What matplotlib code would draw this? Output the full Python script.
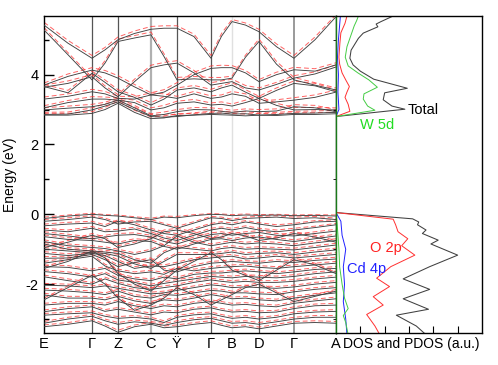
import matplotlib
matplotlib.use("Agg")
import matplotlib.pyplot as plt

plt.rcParams['font.family'] = ['Liberation Sans', 'DejaVu Sans']
plt.rcParams['axes.unicode_minus'] = False

# high-symmetry points along the path (k distance) and labels
sym_k = [0, 48, 74, 107, 133, 167, 188, 215, 250, 292]
sym_labels = ['E', 'Γ', 'Z', 'C', 'Ÿ', 'Γ', 'B', 'D', 'Γ', 'A']
sym_line_colors = [None, '#555555', '#555555', '#b0b0b0', '#555555',
                   '#555555', '#e0e0e0', '#555555', '#9a9a9a', None]
sym_line_widths = [0, 0.9, 0.9, 1.6, 0.9, 0.9, 1.0, 0.9, 1.4, 0]

# k-points where band energies are given (high-symmetry points + midpoints)
k_points = [0, 24, 48, 61, 74, 90.5, 107, 120, 133, 150, 167,
            177.5, 188, 201.5, 215, 232.5, 250, 271, 292]

# conduction bands (eV), black solid
cond_black = [
    [5.42, 4.90, 4.47, 4.71, 5.00, 5.18, 5.30, 5.33, 5.33, 5.09, 4.47, 5.10, 5.52, 5.42, 5.23, 4.80, 4.47, 5.00, 5.66],
    [5.28, 4.57, 3.85, 4.33, 4.95, 5.05, 5.14, 4.52, 3.85, 3.88, 3.85, 3.85, 3.90, 4.50, 4.95, 4.30, 3.85, 3.70, 3.56],
    [3.70, 3.95, 4.13, 4.05, 3.90, 3.65, 3.42, 3.50, 3.70, 4.00, 4.18, 4.20, 4.20, 4.05, 3.80, 4.00, 4.14, 4.10, 4.28],
    [3.64, 3.75, 3.94, 3.62, 3.37, 3.80, 4.20, 4.28, 4.33, 4.05, 3.70, 3.75, 3.80, 3.62, 3.56, 3.72, 3.90, 4.02, 4.22],
    [3.66, 3.48, 4.04, 3.78, 3.51, 3.35, 3.13, 3.30, 3.56, 3.62, 3.51, 3.62, 3.70, 3.50, 3.32, 3.55, 3.75, 3.68, 3.51],
    [3.30, 3.38, 3.51, 3.45, 3.32, 3.30, 3.42, 3.38, 3.32, 3.45, 3.32, 3.36, 3.45, 3.38, 3.18, 3.22, 3.27, 3.35, 3.50],
    [3.05, 3.20, 3.30, 3.30, 3.27, 3.20, 2.99, 3.05, 3.18, 3.22, 3.13, 3.15, 3.10, 3.20, 3.32, 3.12, 2.99, 3.00, 2.99],
    [2.99, 3.04, 3.08, 3.15, 3.27, 3.05, 2.82, 2.86, 2.94, 3.00, 2.99, 2.95, 2.92, 2.96, 2.94, 2.96, 3.08, 3.05, 2.94],
    [2.86, 2.87, 2.99, 3.10, 3.22, 3.00, 2.80, 2.78, 2.80, 2.85, 2.89, 2.90, 2.87, 2.88, 2.84, 2.86, 2.89, 2.90, 2.92],
    [2.84, 2.84, 2.89, 3.00, 3.18, 2.92, 2.74, 2.76, 2.83, 2.84, 2.86, 2.85, 2.84, 2.82, 2.84, 2.83, 2.86, 2.86, 2.88],
]

# conduction bands (eV), red dashed
cond_red = [
    [5.50, 4.98, 4.55, 4.78, 5.08, 5.25, 5.38, 5.40, 5.40, 5.16, 4.55, 5.18, 5.58, 5.48, 5.30, 4.88, 4.55, 5.08, 5.72],
    [5.35, 4.63, 3.92, 4.40, 5.02, 5.12, 5.22, 4.60, 3.92, 3.95, 3.92, 3.92, 3.96, 4.56, 5.02, 4.38, 3.92, 3.77, 3.62],
    [3.76, 4.02, 4.20, 4.12, 3.97, 3.72, 3.48, 3.57, 3.77, 4.07, 4.25, 4.27, 4.26, 4.12, 3.86, 4.07, 4.21, 4.17, 4.34],
    [3.70, 3.82, 4.00, 3.68, 3.43, 3.87, 4.27, 4.35, 4.40, 4.12, 3.77, 3.82, 3.87, 3.69, 3.62, 3.78, 3.97, 4.08, 4.28],
    [3.72, 3.55, 4.10, 3.85, 3.57, 3.41, 3.20, 3.37, 3.62, 3.69, 3.58, 3.68, 3.77, 3.57, 3.38, 3.62, 3.82, 3.75, 3.57],
    [3.36, 3.45, 3.58, 3.52, 3.38, 3.37, 3.48, 3.45, 3.38, 3.52, 3.39, 3.42, 3.52, 3.45, 3.25, 3.28, 3.34, 3.42, 3.56],
    [3.11, 3.26, 3.37, 3.36, 3.33, 3.27, 3.05, 3.12, 3.24, 3.29, 3.19, 3.22, 3.16, 3.27, 3.38, 3.18, 3.06, 3.06, 3.05],
    [3.05, 3.10, 3.15, 3.21, 3.33, 3.12, 2.88, 2.93, 3.00, 3.06, 3.05, 3.02, 2.98, 3.02, 3.00, 3.02, 3.14, 3.12, 3.00],
    [2.92, 2.93, 3.05, 3.16, 3.28, 3.07, 2.86, 2.84, 2.86, 2.91, 2.95, 2.96, 2.93, 2.94, 2.90, 2.92, 2.95, 2.96, 2.98],
    [2.89, 2.89, 2.94, 3.06, 3.24, 2.98, 2.79, 2.81, 2.88, 2.89, 2.91, 2.90, 2.89, 2.87, 2.89, 2.88, 2.91, 2.91, 2.93],
]

# valence bands (eV), black solid
val_black = [
    [-0.12, -0.05, 0.00, -0.03, -0.05, -0.10, -0.15, -0.08, -0.10, -0.04, 0.00, -0.01, -0.04, -0.02, -0.03, -0.02, -0.04, -0.03, -0.05],
    [-0.20, -0.15, -0.08, -0.15, -0.28, -0.22, -0.20, -0.30, -0.40, -0.25, -0.10, -0.12, -0.18, -0.12, -0.10, -0.08, -0.12, -0.10, -0.15],
    [-0.33, -0.28, -0.25, -0.35, -0.20, -0.30, -0.45, -0.55, -0.60, -0.45, -0.30, -0.25, -0.30, -0.22, -0.28, -0.35, -0.30, -0.22, -0.20],
    [-0.45, -0.50, -0.40, -0.50, -0.48, -0.42, -0.55, -0.68, -0.75, -0.60, -0.45, -0.40, -0.45, -0.38, -0.45, -0.50, -0.45, -0.38, -0.30],
    [-0.55, -0.62, -0.70, -0.65, -0.60, -0.58, -0.65, -0.78, -0.85, -0.70, -0.58, -0.55, -0.60, -0.55, -0.52, -0.60, -0.62, -0.55, -0.48],
    [-0.64, -0.72, -0.75, -0.80, -0.85, -0.75, -0.78, -0.92, -1.00, -0.85, -0.72, -0.70, -0.75, -0.68, -0.65, -0.72, -0.78, -0.70, -0.62],
    [-0.78, -0.90, -0.95, -0.98, -1.05, -1.15, -1.05, -0.90, -0.62, -0.80, -0.90, -0.85, -0.80, -0.85, -0.82, -0.85, -0.90, -0.82, -0.75],
    [-0.85, -1.00, -1.05, -1.08, -1.12, -1.30, -1.40, -1.10, -0.95, -1.00, -1.05, -0.98, -0.95, -1.00, -0.98, -1.00, -1.02, -0.95, -0.88],
    [-1.00, -1.05, -1.10, -1.12, -1.20, -1.42, -1.55, -1.35, -1.15, -1.15, -1.15, -1.12, -1.08, -1.15, -1.12, -1.10, -1.15, -1.08, -1.02],
    [-1.12, -1.18, -1.12, -1.18, -1.35, -1.55, -1.48, -1.50, -1.42, -1.30, -1.25, -1.22, -1.20, -1.28, -1.25, -1.20, -1.25, -1.20, -1.15],
    [-1.26, -1.25, -1.15, -1.30, -1.50, -1.38, -1.30, -1.60, -1.65, -1.50, -1.40, -1.38, -1.35, -1.38, -1.40, -1.35, -1.38, -1.32, -1.28],
    [-1.40, -1.30, -1.20, -1.48, -1.62, -1.70, -1.65, -1.72, -1.55, -1.62, -1.55, -1.52, -1.50, -1.48, -1.52, -1.55, -1.50, -1.45, -1.40],
    [-1.50, -1.52, -1.62, -1.55, -1.75, -1.85, -1.90, -1.80, -1.85, -1.72, -1.68, -1.68, -1.65, -1.62, -1.65, -1.70, -1.65, -1.58, -1.55],
    [-1.64, -1.70, -1.80, -1.70, -1.88, -1.95, -2.05, -1.98, -1.92, -1.85, -1.78, -1.80, -1.82, -1.78, -1.80, -1.82, -1.78, -1.70, -1.65],
    [-1.79, -1.90, -2.00, -1.85, -1.98, -2.10, -2.15, -2.10, -2.05, -1.95, -1.88, -1.92, -1.95, -1.92, -1.95, -1.95, -1.92, -1.85, -1.80],
    [-2.03, -2.05, -2.10, -2.05, -2.12, -2.20, -2.28, -2.25, -2.18, -2.10, -2.02, -2.05, -2.10, -2.08, -2.10, -2.12, -2.08, -2.00, -1.95],
    [-2.17, -2.20, -2.25, -2.30, -2.20, -2.35, -2.40, -2.30, -2.32, -2.25, -2.18, -2.20, -2.25, -2.25, -2.28, -2.30, -2.22, -2.15, -2.10],
    [-2.31, -2.40, -2.40, -2.45, -2.35, -2.48, -2.55, -2.45, -2.48, -2.40, -2.30, -2.35, -2.42, -2.40, -2.45, -2.48, -2.40, -2.32, -2.25],
    [-2.60, -2.55, -2.55, -2.60, -2.50, -2.62, -2.70, -2.62, -2.65, -2.55, -2.50, -2.55, -2.60, -2.58, -2.62, -2.65, -2.55, -2.48, -2.42],
    [-2.79, -2.70, -2.65, -2.78, -2.72, -2.80, -2.88, -2.80, -2.82, -2.72, -2.68, -2.75, -2.80, -2.78, -2.82, -2.80, -2.70, -2.62, -2.60],
    [-2.89, -2.85, -2.82, -2.92, -2.98, -2.95, -3.00, -3.10, -2.95, -2.88, -2.85, -2.92, -2.98, -2.95, -3.00, -2.95, -2.85, -2.80, -2.78],
    [-3.12, -3.00, -2.92, -3.05, -3.15, -3.08, -3.12, -3.18, -3.10, -3.02, -2.98, -3.05, -3.12, -3.10, -3.15, -3.08, -3.00, -2.95, -2.95],
    [-3.22, -3.15, -3.05, -3.20, -3.38, -3.22, -3.15, -3.25, -3.22, -3.15, -3.10, -3.18, -3.25, -3.22, -3.28, -3.20, -3.12, -3.10, -3.12],
    [-1.55, -1.35, -1.05, -1.25, -1.70, -2.00, -2.20, -1.90, -1.60, -1.35, -1.10, -1.30, -1.60, -1.75, -1.90, -1.60, -1.30, -1.45, -1.70],
    [-2.45, -2.10, -1.75, -2.00, -2.40, -2.75, -2.60, -2.40, -2.10, -2.30, -2.60, -2.45, -2.30, -2.10, -2.00, -2.25, -2.50, -2.35, -2.20],
    [-0.95, -0.80, -0.60, -0.70, -0.95, -0.85, -0.70, -0.50, -0.45, -0.55, -0.70, -0.65, -0.55, -0.62, -0.75, -0.68, -0.55, -0.65, -0.80],
]

# valence bands (eV), red dashed
val_red = [
    [-0.08, -0.02, 0.03, -0.01, -0.02, -0.07, -0.11, -0.05, -0.06, -0.01, 0.02, 0.01, -0.01, 0.01, -0.01, 0.00, -0.02, -0.01, -0.02],
    [-0.15, -0.10, -0.04, -0.11, -0.23, -0.18, -0.15, -0.26, -0.35, -0.21, -0.06, -0.08, -0.14, -0.08, -0.06, -0.04, -0.08, -0.06, -0.11],
    [-0.28, -0.23, -0.20, -0.30, -0.16, -0.25, -0.40, -0.50, -0.55, -0.40, -0.26, -0.21, -0.25, -0.18, -0.24, -0.30, -0.26, -0.18, -0.16],
    [-0.40, -0.45, -0.35, -0.45, -0.43, -0.37, -0.50, -0.63, -0.70, -0.55, -0.40, -0.36, -0.40, -0.33, -0.40, -0.45, -0.40, -0.34, -0.26],
    [-0.50, -0.57, -0.65, -0.60, -0.55, -0.53, -0.60, -0.73, -0.80, -0.65, -0.53, -0.50, -0.55, -0.50, -0.47, -0.55, -0.57, -0.50, -0.43],
    [-0.59, -0.67, -0.70, -0.75, -0.80, -0.70, -0.73, -0.87, -0.95, -0.80, -0.67, -0.65, -0.70, -0.63, -0.60, -0.67, -0.73, -0.65, -0.57],
    [-0.73, -0.85, -0.90, -0.93, -1.00, -1.10, -1.00, -0.85, -0.57, -0.75, -0.85, -0.80, -0.75, -0.80, -0.77, -0.80, -0.85, -0.77, -0.70],
    [-0.80, -0.95, -1.00, -1.03, -1.07, -1.25, -1.35, -1.05, -0.90, -0.95, -1.00, -0.93, -0.90, -0.95, -0.93, -0.95, -0.97, -0.90, -0.83],
    [-0.95, -1.00, -1.05, -1.07, -1.15, -1.37, -1.50, -1.30, -1.10, -1.10, -1.10, -1.07, -1.03, -1.10, -1.07, -1.05, -1.10, -1.03, -0.97],
    [-1.07, -1.13, -1.07, -1.13, -1.30, -1.50, -1.43, -1.45, -1.37, -1.25, -1.20, -1.17, -1.15, -1.23, -1.20, -1.15, -1.20, -1.15, -1.10],
    [-1.21, -1.20, -1.10, -1.25, -1.45, -1.33, -1.25, -1.55, -1.60, -1.45, -1.35, -1.33, -1.30, -1.33, -1.35, -1.30, -1.33, -1.27, -1.23],
    [-1.35, -1.25, -1.15, -1.43, -1.57, -1.65, -1.60, -1.67, -1.50, -1.57, -1.50, -1.47, -1.45, -1.43, -1.47, -1.50, -1.45, -1.40, -1.35],
    [-1.45, -1.47, -1.57, -1.50, -1.70, -1.80, -1.85, -1.75, -1.80, -1.67, -1.63, -1.63, -1.60, -1.57, -1.60, -1.65, -1.60, -1.53, -1.50],
    [-1.59, -1.65, -1.75, -1.65, -1.83, -1.90, -2.00, -1.93, -1.87, -1.80, -1.73, -1.75, -1.77, -1.73, -1.75, -1.77, -1.73, -1.65, -1.60],
    [-1.74, -1.85, -1.95, -1.80, -1.93, -2.05, -2.10, -2.05, -2.00, -1.90, -1.83, -1.87, -1.90, -1.87, -1.90, -1.90, -1.87, -1.80, -1.75],
    [-1.98, -2.00, -2.05, -2.00, -2.07, -2.15, -2.23, -2.20, -2.13, -2.05, -1.97, -2.00, -2.05, -2.03, -2.05, -2.07, -2.03, -1.95, -1.90],
    [-2.12, -2.15, -2.20, -2.25, -2.15, -2.30, -2.35, -2.25, -2.27, -2.20, -2.13, -2.15, -2.20, -2.20, -2.23, -2.25, -2.17, -2.10, -2.05],
    [-2.26, -2.35, -2.35, -2.40, -2.30, -2.43, -2.50, -2.40, -2.43, -2.35, -2.25, -2.30, -2.37, -2.35, -2.40, -2.43, -2.35, -2.27, -2.20],
    [-2.55, -2.50, -2.50, -2.55, -2.45, -2.57, -2.65, -2.57, -2.60, -2.50, -2.45, -2.50, -2.55, -2.53, -2.57, -2.60, -2.50, -2.43, -2.37],
    [-2.74, -2.65, -2.60, -2.73, -2.67, -2.75, -2.83, -2.75, -2.77, -2.67, -2.63, -2.70, -2.75, -2.73, -2.77, -2.75, -2.65, -2.57, -2.55],
    [-2.84, -2.80, -2.77, -2.87, -2.93, -2.90, -2.95, -3.05, -2.90, -2.83, -2.80, -2.87, -2.93, -2.90, -2.95, -2.90, -2.80, -2.75, -2.73],
    [-3.07, -2.95, -2.87, -3.00, -3.10, -3.03, -3.07, -3.13, -3.05, -2.97, -2.93, -3.00, -3.07, -3.05, -3.10, -3.03, -2.95, -2.90, -2.90],
    [-3.17, -3.10, -3.00, -3.15, -3.32, -3.17, -3.10, -3.20, -3.17, -3.10, -3.05, -3.13, -3.20, -3.17, -3.23, -3.15, -3.07, -3.05, -3.07],
    [-1.50, -1.30, -1.00, -1.20, -1.65, -1.95, -2.15, -1.85, -1.55, -1.30, -1.05, -1.25, -1.55, -1.70, -1.85, -1.55, -1.25, -1.40, -1.65],
    [-2.40, -2.05, -1.70, -1.95, -2.35, -2.70, -2.55, -2.35, -2.05, -2.25, -2.55, -2.40, -2.25, -2.05, -1.95, -2.20, -2.45, -2.30, -2.15],
    [-0.90, -0.75, -0.55, -0.65, -0.90, -0.80, -0.65, -0.45, -0.40, -0.50, -0.65, -0.60, -0.50, -0.57, -0.70, -0.63, -0.50, -0.60, -0.75],
]

# density of states: energies (eV) and values (a.u.)
total_E = [-3.45, -3.20, -2.89, -2.72, -2.42, -2.15, -1.85, -1.50, -1.17, -0.85, -0.74, -0.55,
           -0.45, -0.30, -0.22, -0.13, 0.05, 2.80, 3.01, 3.10, 3.28, 3.48, 3.61, 3.87, 4.10,
           4.28, 4.47, 4.70, 5.04, 5.19, 5.37, 5.45, 5.52, 5.60, 5.68, 5.80]
total_dos = [3.70, 3.30, 2.48, 3.80, 2.76, 3.85, 2.76, 3.85, 5.00, 3.90, 4.20, 3.55,
             3.70, 3.35, 3.40, 3.15, 0.00, 0.00, 2.83, 2.30, 1.94, 2.00, 2.93, 1.55, 1.00,
             0.70, 0.57, 0.62, 0.92, 1.12, 1.72, 1.65, 1.85, 2.10, 2.35, 2.60]

o2p_E = [-3.45, -3.20, -2.87, -2.60, -2.36, -2.07, -1.83, -1.50, -1.17, -0.90, -0.70, -0.50,
         -0.30, -0.14, 0.05, 2.80, 2.95, 3.15, 3.35, 3.50, 3.66, 3.85, 4.05, 4.30, 4.50,
         4.90, 5.20, 5.47, 5.68, 5.80]
o2p_dos = [1.80, 1.60, 1.26, 1.94, 1.53, 2.20, 1.67, 2.25, 3.24, 2.70, 2.95, 2.55,
           2.45, 2.35, 0.00, 0.00, 0.57, 0.50, 0.37, 0.45, 0.55, 0.40, 0.25, 0.15, 0.12,
           0.16, 0.20, 0.37, 0.45, 0.50]

cd4p_E = [-3.45, -3.00, -2.50, -2.00, -1.50, -1.00, -0.60, -0.20, 0.05, 2.80, 3.00, 3.50,
          4.00, 4.50, 5.00, 5.68, 5.80]
cd4p_dos = [0.45, 0.40, 0.30, 0.35, 0.30, 0.40, 0.25, 0.20, 0.00, 0.00, 0.12, 0.08,
            0.10, 0.06, 0.10, 0.18, 0.20]

w5d_E = [-3.45, -3.10, -2.90, -2.70, -2.40, -2.00, -1.50, -1.00, -0.30, 0.05, 2.80, 2.98,
         3.10, 3.30, 3.45, 3.64, 3.85, 4.05, 4.25, 4.50, 4.80, 5.10, 5.40, 5.55, 5.68, 5.80]
w5d_dos = [0.50, 0.40, 0.30, 0.50, 0.35, 0.25, 0.15, 0.12, 0.05, 0.00, 0.00, 1.60,
           1.30, 1.12, 1.15, 1.70, 1.35, 0.90, 0.50, 0.38, 0.45, 0.60, 0.75, 0.85, 0.92, 0.98]

fig = plt.figure(figsize=(4.98, 3.65), dpi=100)
ax = fig.add_axes([44 / 498, 32 / 365, 292 / 498, 317 / 365])
ax_dos = fig.add_axes([336 / 498, 32 / 365, 146 / 498, 317 / 365], sharey=ax)

# vertical lines at high-symmetry points
for k, c, w in zip(sym_k, sym_line_colors, sym_line_widths):
    if c is not None:
        ax.axvline(k, color=c, lw=w, zorder=1)

for band in cond_red + val_red:
    ax.plot(k_points, band, color='#ff3030', lw=0.7, dashes=(5, 3), alpha=0.75, zorder=2)
for band in cond_black + val_black:
    ax.plot(k_points, band, color='#404040', lw=0.65, zorder=3)

ax.set_xlim(sym_k[0], sym_k[-1])
ax.set_ylim(-3.4, 5.68)
ax.set_xticks(sym_k)
ax.set_xticklabels(sym_labels, fontsize=10.5)
ax.tick_params(axis='x', length=0, pad=3)
ax.set_yticks([-2, 0, 2, 4])
ax.set_yticks([-3, -1, 1, 3, 5], minor=True)
ax.tick_params(axis='y', which='major', direction='in', length=7, width=1, labelsize=10.5, pad=4)
ax.tick_params(axis='y', which='minor', direction='in', length=3.5, width=1)
ax.set_ylabel('Energy (eV)', fontsize=10, labelpad=6)
for s in ax.spines.values():
    s.set_linewidth(1.0)

# DOS panel
ax_dos.plot(total_dos, total_E, color='#404040', lw=0.75)
ax_dos.plot(o2p_dos, o2p_E, color='#ff3030', lw=0.7)
ax_dos.plot(cd4p_dos, cd4p_E, color='#2020ff', lw=0.7)
ax_dos.plot(w5d_dos, w5d_E, color='#44cc44', lw=0.7)
ax_dos.set_xlim(0, 6)
ax_dos.set_xticks([1, 2, 3, 4, 5])
ax_dos.tick_params(axis='x', direction='in', length=5, labelbottom=False)
ax_dos.tick_params(axis='y', left=False, labelleft=False)
ax_dos.spines['left'].set_color('#1a7a1a')
for s in ax_dos.spines.values():
    s.set_linewidth(1.0)
ax_dos.text(0.05, -0.013, 'DOS and PDOS (a.u.)', transform=ax_dos.transAxes,
            ha='left', va='top', fontsize=10)

ax_dos.text(2.95, 2.99, 'Total', color='black', fontsize=10.5, va='center')
ax_dos.text(0.98, 2.56, 'W 5d', color='#22dd22', fontsize=10.5, va='center')
ax_dos.text(1.39, -0.97, 'O 2p', color='#ff2020', fontsize=10.5, va='center')
ax_dos.text(0.45, -1.57, 'Cd 4p', color='#2020ff', fontsize=10.5, va='center')

fig.savefig('out.png', dpi=100)
